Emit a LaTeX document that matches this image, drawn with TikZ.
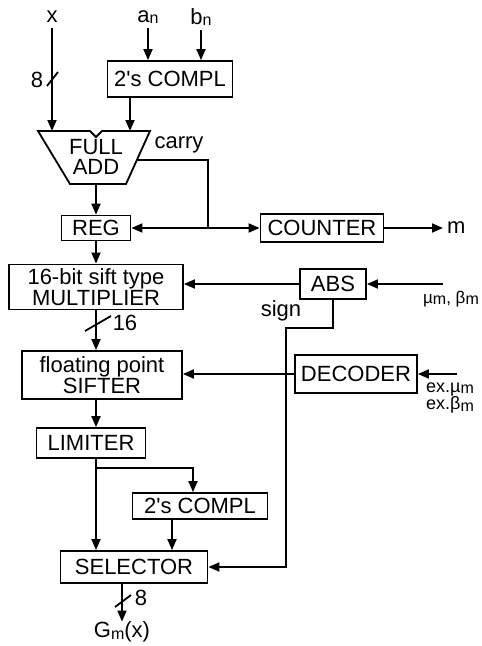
\documentclass[tikz,border=0pt]{standalone}
\usepackage{fontspec}
\setmainfont{Liberation Sans}
\usetikzlibrary{arrows.meta}

% small lowered index letter, as printed
\newcommand{\lo}[1]{\raisebox{-1.5pt}{\fontsize{16}{16}\selectfont #1}}

\begin{document}
\begin{tikzpicture}[x=1pt,y=-1pt,
  blk/.style={draw,line width=1.8pt,inner sep=0pt,align=center,font=\fontsize{22}{18.5}\selectfont},
  wire/.style={line width=1.8pt},
  sig/.style={wire,-{Triangle[length=11pt,width=9pt]}},
  lbl/.style={inner sep=0pt,font=\fontsize{22}{22}\selectfont}]
  \useasboundingbox (0,0) rectangle (482,646);

  % blocks
  \node[blk,minimum width=125pt,minimum height=36pt] (cmpa) at (170,79) {2\textquotesingle s COMPL};
  \node[blk,minimum width=69pt,minimum height=25pt] (reg) at (96,228) {REG};
  \node[blk,minimum width=123pt,minimum height=28pt] (counter) at (322,228) {COUNTER};
  \node[blk,minimum width=174pt,minimum height=45pt] (mult) at (96,287) {16-bit sift type\\MULTIPLIER};
  \node[blk,minimum width=66pt,minimum height=30pt] (abs) at (333,284) {ABS};
  \node[blk,minimum width=160pt,minimum height=48pt] (sifter) at (102,375) {floating point\\SIFTER};
  \node[blk,minimum width=122pt,minimum height=38pt] (decoder) at (356,374) {DECODER};
  \node[blk,minimum width=109pt,minimum height=30pt] (limiter) at (91,443) {LIMITER};
  \node[blk,minimum width=135pt,minimum height=26pt] (cmpb) at (200,506) {2\textquotesingle s COMPL};
  \node[blk,minimum width=147pt,minimum height=32pt] (selector) at (134,567) {SELECTOR};

  % full adder
  \draw[wire] (38,131) -- (90,131) -- (96,137) -- (102,131) -- (150,131) -- (126,184) -- (70,184) -- cycle;
  \node[lbl,align=center,font=\fontsize{22}{20}\selectfont] (add) at (96,157) {FULL\\ADD};
  \coordinate (addx) at (52,131);
  \coordinate (addb) at (130,131);
  \coordinate (addo) at (96,184);
  \coordinate (carryo) at (136,160);

  % inputs and labels
  \node[lbl] (xin) at (52,17) {x};
  \node[lbl] (an) at (148,17) {a\lo{n}};
  \node[lbl] (bn) at (201,17) {b\lo{n}};
  \node[lbl] (carry) at (179,145) {carry};
  \node[lbl,anchor=west] (mout) at (447,228) {m};
  \node[lbl,font=\fontsize{17}{17}\selectfont] (mubeta) at (451,299) {\textmu\lo{m}, β\lo{m}};
  \node[lbl] (sgn) at (281,311) {sign};
  \node[lbl,anchor=west,align=left,font=\fontsize{18}{14}\selectfont] (exlbl) at (426,398) {ex.\textmu\lo{m}\\ex.β\lo{m}};
  \node[lbl] (gm) at (122,632) {G\lo{m}(x)};

  \coordinate (absin) at (443,284);
  \coordinate (decin) at (457,374);
  \coordinate (cj) at (208,228);
  \coordinate (sgb) at (286,328);
  \coordinate (lj) at (96,468);
  \coordinate (lj2) at (193,468);
  \coordinate (cbo) at (172,519);

  % connectors
  \draw[sig,shorten <=5pt] (xin.south) -- (addx);
  \draw[sig,shorten <=4pt] (an.south) -- (an.south |- cmpa.north);
  \draw[sig,shorten <=4pt] (bn.south) -- (bn.south |- cmpa.north);
  \draw[sig] (cmpa.south -| addb) -- (addb);
  \draw[sig] (addo) -- (addo |- reg.north);
  \draw[wire] (carryo) -| (cj);
  \draw[sig] (cj) -- (reg.east);
  \draw[sig] (cj) -- (counter.west);
  \draw[sig,shorten >=4pt] (counter.east) -- (counter.east -| mout.west);
  \draw[sig] (reg.south) -- (reg.south |- mult.north);
  \draw[sig] (absin) -- (abs.east);
  \draw[sig] (abs.west) -- (abs.west -| mult.east);
  \draw[sig] (abs.south) |- (sgb) |- (selector.east);
  \draw[sig] (mult.south) -- (mult.south |- sifter.north);
  \draw[sig] (decin) -- (decoder.east);
  \draw[sig] (decoder.west) -- (decoder.west -| sifter.east);
  \draw[sig] (sifter.south -| reg.south) -- (limiter.north -| reg.south);
  \draw[wire] (limiter.south -| lj) -- (lj);
  \draw[sig] (lj) -- (lj |- selector.north);
  \draw[sig] (lj) -- (lj2) -- (lj2 |- cmpb.north);
  \draw[sig] (cbo) -- (cbo |- selector.north);
  \draw[sig] ([xshift=-12pt]selector.south) -- (gm.north);

  % bus widths
  \draw[wire] (47,86) -- (58,72);
  \node[lbl] (w8a) at (37,80) {8};
  \draw[wire] (85,331) -- (111,316);
  \node[lbl] (w16) at (125,323) {16};
  \draw[wire] (115,607) -- (131,595);
  \node[lbl] (w8b) at (141,598) {8};
\end{tikzpicture}
\end{document}
